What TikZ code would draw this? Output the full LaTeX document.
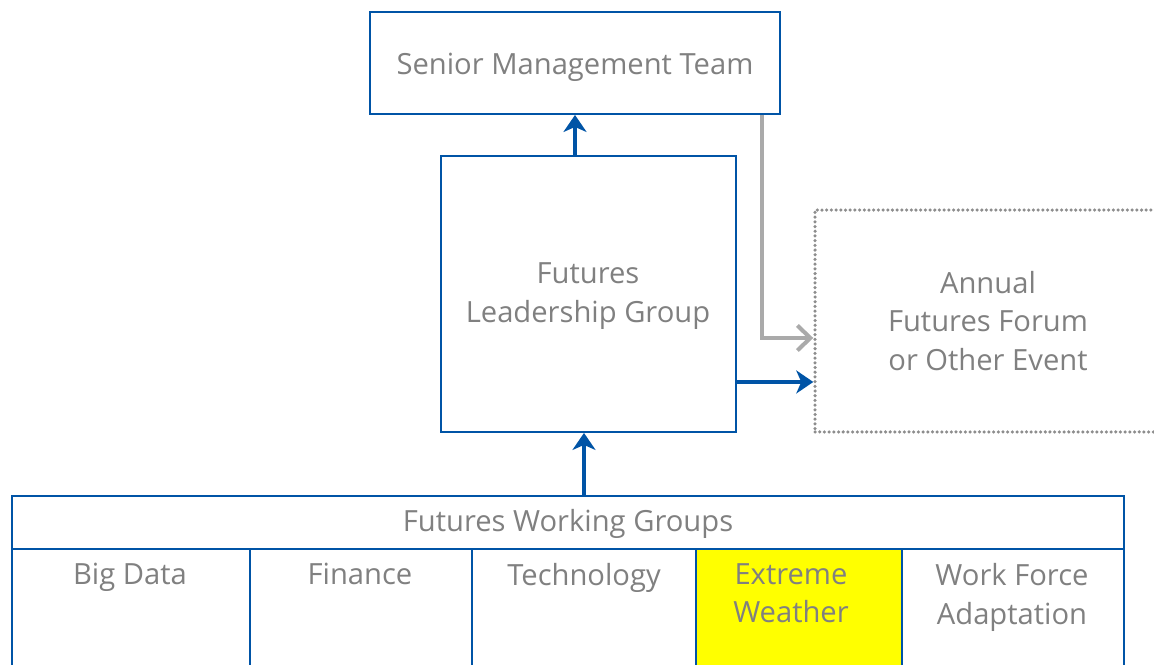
\documentclass[tikz,border=0pt]{standalone}
\usepackage{fontspec}
\setmainfont{Open Sans}
\usetikzlibrary{positioning,arrows.meta}

\definecolor{orgblue}{RGB}{0,84,166}
\definecolor{orggray}{RGB}{128,128,128}
\definecolor{linkgray}{RGB}{170,170,170}
\definecolor{hilite}{RGB}{255,255,0}

\tikzset{
  unit/.style={draw=orgblue,line width=1.1pt,rectangle,inner sep=0pt},
  txt/.style={text=orggray,font=\fontsize{16.6}{22}\selectfont,align=center},
  flow/.style={draw=orgblue,line width=2.3pt,-{Stealth[length=0.34cm,width=0.46cm,inset=0.1cm]}},
  feed/.style={draw=linkgray,line width=2.3pt,-{Straight Barb[length=0.26cm,width=0.5cm]}},
}

\begin{document}
\begin{tikzpicture}[x=0.02cm,y=-0.02cm]
  \useasboundingbox (0,0) rectangle (1154,665);

  \node[unit,minimum width=8.2cm,minimum height=2.04cm] (smt) at (575,63) {};
  \node[txt] (smt-t) at (575,67) {Senior Management Team};
  \node[unit,minimum width=5.9cm,minimum height=5.52cm] (flg) at (588.5,294) {};
  \node[txt] (flg-t) at (588,296) {Futures\\Leadership Group};
  \node[draw=orggray!90,line width=2pt,dash pattern=on 0pt off 0.094cm,line cap=round,
    minimum width=6.92cm,minimum height=4.44cm] (forum) at (988,321) {};
  \node[txt] (forum-t) at (forum) {Annual\\Futures Forum\\or Other Event};

  % working groups
  \node[unit,minimum width=22.24cm,minimum height=1.06cm] (groups) at (568,522.5) {};
  \node[txt] (groups-t) at (568,524) {Futures Working Groups};
  \foreach \x/\tx/\w/\n/\c/\t in {131/130/4.76/bigdata/white/Big Data, 361/360/4.44/finance/white/Finance,
    584/584/4.48/tech/white/Technology, 799/791/4.12/weather/hilite/Extreme\\Weather,
    1013/1012/4.44/workforce/white/Work Force\\Adaptation}
  {
    \node[unit,fill=\c,minimum width=\w cm,minimum height=3.02cm] (\n) at (\x,624.5) {};
    \node[txt,anchor=north] (\n-t) at (\tx,557) {\t};
  }

  \draw[flow] (flg.north -| smt.south) -- (smt.south);
  \draw[flow] (groups.north -| tech) -- (tech |- flg.south);
  \draw[flow] ([yshift=-1.76cm]flg.east) coordinate (out) -- (out -| forum.west);
  \draw[feed] ([xshift=3.74cm]smt.south) |- ([yshift=-0.34cm]forum.west);

\end{tikzpicture}
\end{document}
